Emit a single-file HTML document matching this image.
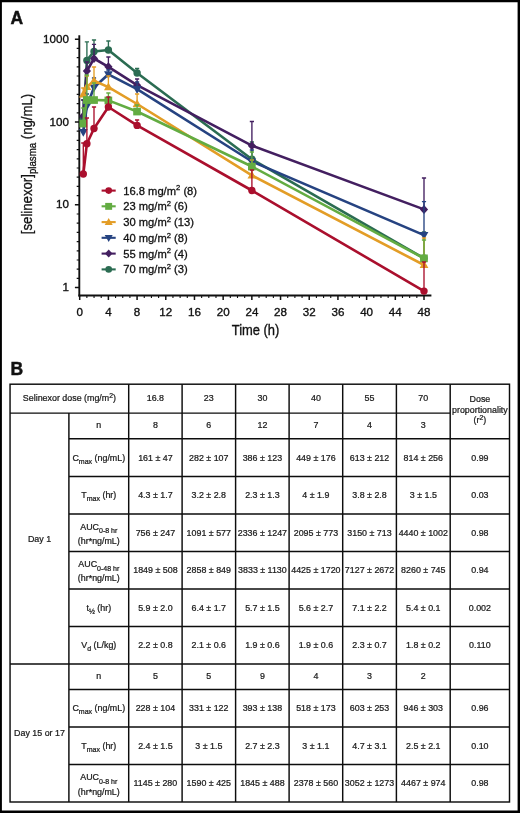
<!DOCTYPE html>
<html lang="en">
<head>
<meta charset="utf-8">
<title>Selinexor pharmacokinetics</title>
<style>html,body{margin:0;padding:0;background:#fff}body{width:520px;height:813px;overflow:hidden}svg text{font-family:"Liberation Sans",sans-serif}</style>
</head>
<body>
<svg width="520" height="813" viewBox="0 0 520 813" style="display:block">
<rect x="0" y="0" width="520" height="813" fill="#fff"/>
<path d="M0 0H520V813H0Z M1.9 2.2H517.6V810.4H1.9Z" fill="#000" fill-rule="evenodd"/>
<text x="10.5" y="23.7" font-size="17.5" font-weight="700" fill="#111" stroke="#111" stroke-width="0.45">A</text>
<text x="10.5" y="374.9" font-size="17.5" font-weight="700" fill="#111" stroke="#111" stroke-width="0.45">B</text>
<g stroke="#111" fill="none">
<path d="M79.3 35.2V296.4" stroke-width="1.9"/>
<path d="M78.39999999999999 295.5H431.4" stroke-width="1.9"/>
<path d="M74.9 287.60H79.3M74.9 204.80H79.3M74.9 122.00H79.3M74.9 39.20H79.3" stroke-width="1.5"/>
<path d="M76.7 278.40H79.3M76.7 269.20H79.3M76.7 260.00H79.3M76.7 250.80H79.3M76.7 241.60H79.3M76.7 232.40H79.3M76.7 223.20H79.3M76.7 214.00H79.3M76.7 195.60H79.3M76.7 186.40H79.3M76.7 177.20H79.3M76.7 168.00H79.3M76.7 158.80H79.3M76.7 149.60H79.3M76.7 140.40H79.3M76.7 131.20H79.3M76.7 112.80H79.3M76.7 103.60H79.3M76.7 94.40H79.3M76.7 85.20H79.3M76.7 76.00H79.3M76.7 66.80H79.3M76.7 57.60H79.3M76.7 48.40H79.3" stroke-width="1.2"/>
<path d="M79.70 295.5V299.9M108.39 295.5V299.9M137.08 295.5V299.9M165.78 295.5V299.9M194.47 295.5V299.9M223.16 295.5V299.9M251.85 295.5V299.9M280.54 295.5V299.9M309.23 295.5V299.9M337.93 295.5V299.9M366.62 295.5V299.9M395.31 295.5V299.9M424.00 295.5V299.9" stroke-width="1.5"/>
<path d="M86.87 295.5V298.0M94.05 295.5V298.0M101.22 295.5V298.0M115.56 295.5V298.0M122.74 295.5V298.0M129.91 295.5V298.0M144.26 295.5V298.0M151.43 295.5V298.0M158.60 295.5V298.0M172.95 295.5V298.0M180.12 295.5V298.0M187.29 295.5V298.0M201.64 295.5V298.0M208.81 295.5V298.0M215.99 295.5V298.0M230.33 295.5V298.0M237.50 295.5V298.0M244.68 295.5V298.0M259.02 295.5V298.0M266.20 295.5V298.0M273.37 295.5V298.0M287.71 295.5V298.0M294.89 295.5V298.0M302.06 295.5V298.0M316.41 295.5V298.0M323.58 295.5V298.0M330.75 295.5V298.0M345.10 295.5V298.0M352.27 295.5V298.0M359.44 295.5V298.0M373.79 295.5V298.0M380.96 295.5V298.0M388.14 295.5V298.0M402.48 295.5V298.0M409.65 295.5V298.0M416.83 295.5V298.0" stroke-width="1.1"/>
</g>
<g font-size="11.6" fill="#111" stroke="#111" stroke-width="0.35">
<text x="68.9" y="291.2" text-anchor="end">1</text>
<text x="68.9" y="208.4" text-anchor="end">10</text>
<text x="68.9" y="125.6" text-anchor="end">100</text>
<text x="68.9" y="42.8" text-anchor="end">1000</text>
<text x="79.7" y="315.6" text-anchor="middle">0</text>
<text x="108.4" y="315.6" text-anchor="middle">4</text>
<text x="137.1" y="315.6" text-anchor="middle">8</text>
<text x="165.8" y="315.6" text-anchor="middle">12</text>
<text x="194.5" y="315.6" text-anchor="middle">16</text>
<text x="223.2" y="315.6" text-anchor="middle">20</text>
<text x="251.9" y="315.6" text-anchor="middle">24</text>
<text x="280.5" y="315.6" text-anchor="middle">28</text>
<text x="309.2" y="315.6" text-anchor="middle">32</text>
<text x="337.9" y="315.6" text-anchor="middle">36</text>
<text x="366.6" y="315.6" text-anchor="middle">40</text>
<text x="395.3" y="315.6" text-anchor="middle">44</text>
<text x="424.0" y="315.6" text-anchor="middle">48</text>
</g>
<text transform="translate(255.5 334.9) scale(0.91 1)" font-size="14.2" text-anchor="middle" fill="#111" stroke="#111" stroke-width="0.35">Time (h)</text>
<text transform="translate(32 164) rotate(-90) scale(0.88 1)" font-size="15" text-anchor="middle" fill="#111" stroke="#111" stroke-width="0.3">[selinexor]<tspan font-size="11" dy="3.6">plasma</tspan><tspan dy="-3.6"> (ng/mL)</tspan></text>
<g stroke="#2b6c52" fill="none">
<path d="M83.3 119.0V100.0M81.2 100.0H85.4M86.9 60.4V41.9M84.8 41.9H89.0M94.0 51.5V40.0M91.9 40.0H96.1M108.4 50.0V41.0M106.3 41.0H110.5M137.1 73.0V68.5M135.0 68.5H139.2M251.9 159.2V142.0M249.8 142.0H254.0M424.0 258.3V232.0M421.9 232.0H426.1" stroke-width="1.35"/>
<polyline points="83.3,119.0 86.9,60.4 94.0,51.5 108.4,50.0 137.1,73.0 251.9,159.2 424.0,258.3" stroke-width="2.6" stroke-linejoin="round"/>
</g>
<circle cx="83.3" cy="119.0" r="3.70" fill="#2b6c52"/>
<circle cx="86.9" cy="60.4" r="3.70" fill="#2b6c52"/>
<circle cx="94.0" cy="51.5" r="3.70" fill="#2b6c52"/>
<circle cx="108.4" cy="50.0" r="3.70" fill="#2b6c52"/>
<circle cx="137.1" cy="73.0" r="3.70" fill="#2b6c52"/>
<circle cx="251.9" cy="159.2" r="3.70" fill="#2b6c52"/>
<circle cx="424.0" cy="258.3" r="3.70" fill="#2b6c52"/>
<g stroke="#431f60" fill="none">
<path d="M83.3 116.0V100.0M81.2 100.0H85.4M86.9 71.0V62.0M84.8 62.0H89.0M94.0 58.5V44.4M91.9 44.4H96.1M108.4 66.8V57.0M106.3 57.0H110.5M137.1 85.2V79.0M135.0 79.0H139.2M251.9 145.7V121.5M249.8 121.5H254.0M424.0 209.4V178.0M421.9 178.0H426.1" stroke-width="1.35"/>
<polyline points="83.3,116.0 86.9,71.0 94.0,58.5 108.4,66.8 137.1,85.2 251.9,145.7 424.0,209.4" stroke-width="2.6" stroke-linejoin="round"/>
</g>
<path d="M83.3 111.5L87.4 116.0L83.3 120.5L79.2 116.0Z" fill="#431f60"/>
<path d="M86.9 66.5L91.0 71.0L86.9 75.5L82.8 71.0Z" fill="#431f60"/>
<path d="M94.0 54.0L98.1 58.5L94.0 63.0L89.9 58.5Z" fill="#431f60"/>
<path d="M108.4 62.3L112.5 66.8L108.4 71.3L104.3 66.8Z" fill="#431f60"/>
<path d="M137.1 80.7L141.2 85.2L137.1 89.7L133.0 85.2Z" fill="#431f60"/>
<path d="M251.9 141.2L256.0 145.7L251.9 150.2L247.8 145.7Z" fill="#431f60"/>
<path d="M424.0 204.9L428.1 209.4L424.0 213.9L419.9 209.4Z" fill="#431f60"/>
<g stroke="#264381" fill="none">
<path d="M83.3 132.0V120.0M81.2 120.0H85.4M86.9 106.0V94.0M84.8 94.0H89.0M94.0 87.5V78.0M91.9 78.0H96.1M108.4 74.3V70.0M106.3 70.0H110.5M137.1 89.2V82.0M135.0 82.0H139.2M251.9 161.5V150.0M249.8 150.0H254.0M424.0 235.1V201.6M421.9 201.6H426.1" stroke-width="1.35"/>
<polyline points="83.3,132.0 86.9,106.0 94.0,87.5 108.4,74.3 137.1,89.2 251.9,161.5 424.0,235.1" stroke-width="2.6" stroke-linejoin="round"/>
</g>
<path d="M83.3 136.7L87.7 128.9L78.9 128.9Z" fill="#264381"/>
<path d="M86.9 110.7L91.3 102.9L82.5 102.9Z" fill="#264381"/>
<path d="M94.0 92.2L98.4 84.4L89.6 84.4Z" fill="#264381"/>
<path d="M108.4 79.0L112.8 71.2L104.0 71.2Z" fill="#264381"/>
<path d="M137.1 93.9L141.5 86.1L132.7 86.1Z" fill="#264381"/>
<path d="M251.9 166.2L256.2 158.4L247.5 158.4Z" fill="#264381"/>
<path d="M424.0 239.8L428.4 232.0L419.6 232.0Z" fill="#264381"/>
<g stroke="#e39d26" fill="none">
<path d="M83.3 94.5V88.0M81.2 88.0H85.4M86.9 87.0V76.0M84.8 76.0H89.0M94.0 80.8V67.0M91.9 67.0H96.1M108.4 87.1V76.0M106.3 76.0H110.5M137.1 104.0V94.0M135.0 94.0H139.2M251.9 175.4V160.0M249.8 160.0H254.0M424.0 265.0V238.0M421.9 238.0H426.1" stroke-width="1.35"/>
<polyline points="83.3,94.5 86.9,87.0 94.0,80.8 108.4,87.1 137.1,104.0 251.9,175.4 424.0,265.0" stroke-width="2.6" stroke-linejoin="round"/>
</g>
<path d="M83.3 89.8L87.7 97.6L78.9 97.6Z" fill="#e39d26"/>
<path d="M86.9 82.3L91.3 90.1L82.5 90.1Z" fill="#e39d26"/>
<path d="M94.0 76.1L98.4 83.9L89.6 83.9Z" fill="#e39d26"/>
<path d="M108.4 82.4L112.8 90.2L104.0 90.2Z" fill="#e39d26"/>
<path d="M137.1 99.3L141.5 107.1L132.7 107.1Z" fill="#e39d26"/>
<path d="M251.9 170.7L256.2 178.5L247.5 178.5Z" fill="#e39d26"/>
<path d="M424.0 260.3L428.4 268.1L419.6 268.1Z" fill="#e39d26"/>
<g stroke="#63ac42" fill="none">
<path d="M83.3 123.5V108.0M81.2 108.0H85.4M86.9 100.0V75.0M84.8 75.0H89.0M94.0 100.0V83.0M91.9 83.0H96.1M108.4 100.4V93.0M106.3 93.0H110.5M137.1 111.5V105.0M135.0 105.0H139.2M251.9 166.5V152.0M249.8 152.0H254.0M424.0 258.3V240.0M421.9 240.0H426.1" stroke-width="1.35"/>
<polyline points="83.3,123.5 86.9,100.0 94.0,100.0 108.4,100.4 137.1,111.5 251.9,166.5 424.0,258.3" stroke-width="2.6" stroke-linejoin="round"/>
</g>
<rect x="79.4" y="119.7" width="7.70" height="7.70" fill="#63ac42"/>
<rect x="83.0" y="96.2" width="7.70" height="7.70" fill="#63ac42"/>
<rect x="90.2" y="96.2" width="7.70" height="7.70" fill="#63ac42"/>
<rect x="104.5" y="96.6" width="7.70" height="7.70" fill="#63ac42"/>
<rect x="133.2" y="107.7" width="7.70" height="7.70" fill="#63ac42"/>
<rect x="248.0" y="162.7" width="7.70" height="7.70" fill="#63ac42"/>
<rect x="420.1" y="254.5" width="7.70" height="7.70" fill="#63ac42"/>
<g stroke="#aa0f2d" fill="none">
<path d="M83.3 174.0V143.0M81.2 143.0H85.4M86.9 143.7V118.0M84.8 118.0H89.0M94.0 128.5V107.0M91.9 107.0H96.1M108.4 107.0V97.0M106.3 97.0H110.5M137.1 125.4V120.0M135.0 120.0H139.2M251.9 190.5V170.0M249.8 170.0H254.0M424.0 291.1V262.0M421.9 262.0H426.1" stroke-width="1.35"/>
<polyline points="83.3,174.0 86.9,143.7 94.0,128.5 108.4,107.0 137.1,125.4 251.9,190.5 424.0,291.1" stroke-width="2.6" stroke-linejoin="round"/>
</g>
<circle cx="83.3" cy="174.0" r="3.70" fill="#aa0f2d"/>
<circle cx="86.9" cy="143.7" r="3.70" fill="#aa0f2d"/>
<circle cx="94.0" cy="128.5" r="3.70" fill="#aa0f2d"/>
<circle cx="108.4" cy="107.0" r="3.70" fill="#aa0f2d"/>
<circle cx="137.1" cy="125.4" r="3.70" fill="#aa0f2d"/>
<circle cx="251.9" cy="190.5" r="3.70" fill="#aa0f2d"/>
<circle cx="424.0" cy="291.1" r="3.70" fill="#aa0f2d"/>
<path d="M101.6 190.6H115.7" stroke="#aa0f2d" stroke-width="2.1"/>
<circle cx="108.7" cy="190.6" r="3.33" fill="#aa0f2d"/>
<text x="123.2" y="194.6" font-size="11.2" fill="#111" stroke="#111" stroke-width="0.3">16.8 mg/m<tspan font-size="7.6" dy="-4.2">2</tspan><tspan dy="4.2"> (8)</tspan></text>
<path d="M101.6 206.3H115.7" stroke="#63ac42" stroke-width="2.1"/>
<rect x="105.2" y="202.9" width="6.93" height="6.93" fill="#63ac42"/>
<text x="123.2" y="210.3" font-size="11.2" fill="#111" stroke="#111" stroke-width="0.3">23 mg/m<tspan font-size="7.6" dy="-4.2">2</tspan><tspan dy="4.2"> (6)</tspan></text>
<path d="M101.6 222.1H115.7" stroke="#e39d26" stroke-width="2.1"/>
<path d="M108.7 217.9L112.7 224.9L104.7 224.9Z" fill="#e39d26"/>
<text x="123.2" y="226.1" font-size="11.2" fill="#111" stroke="#111" stroke-width="0.3">30 mg/m<tspan font-size="7.6" dy="-4.2">2</tspan><tspan dy="4.2"> (13)</tspan></text>
<path d="M101.6 237.8H115.7" stroke="#264381" stroke-width="2.1"/>
<path d="M108.7 242.1L112.7 235.1L104.7 235.1Z" fill="#264381"/>
<text x="123.2" y="241.8" font-size="11.2" fill="#111" stroke="#111" stroke-width="0.3">40 mg/m<tspan font-size="7.6" dy="-4.2">2</tspan><tspan dy="4.2"> (8)</tspan></text>
<path d="M101.6 253.6H115.7" stroke="#431f60" stroke-width="2.1"/>
<path d="M108.7 249.5L112.4 253.6L108.7 257.6L105.0 253.6Z" fill="#431f60"/>
<text x="123.2" y="257.6" font-size="11.2" fill="#111" stroke="#111" stroke-width="0.3">55 mg/m<tspan font-size="7.6" dy="-4.2">2</tspan><tspan dy="4.2"> (4)</tspan></text>
<path d="M101.6 269.4H115.7" stroke="#2b6c52" stroke-width="2.1"/>
<circle cx="108.7" cy="269.4" r="3.33" fill="#2b6c52"/>
<text x="123.2" y="273.4" font-size="11.2" fill="#111" stroke="#111" stroke-width="0.3">70 mg/m<tspan font-size="7.6" dy="-4.2">2</tspan><tspan dy="4.2"> (3)</tspan></text>
<g stroke="#0d0d0d" stroke-width="1.45" fill="none">
<rect x="10.05" y="384.2" width="499.45" height="417.8"/>
<path d="M68.9 413.1V802M128.7 384.2V802M182.1 384.2V802M235.6 384.2V802M289.1 384.2V802M342.7 384.2V802M396.4 384.2V802M450.2 384.2V802M10.05 413.1H450.2M68.9 438.8H509.5M68.9 476.4H509.5M68.9 513.9H509.5M68.9 551.4H509.5M68.9 588.9H509.5M68.9 626.4H509.5M10.05 663.9H509.5M68.9 689.5H509.5M68.9 727H509.5M68.9 764.5H509.5"/>
</g>
<g font-size="8.9" fill="#1a1a1a" text-anchor="middle" stroke="#1a1a1a" stroke-width="0.24">
<text x="69.4" y="400.9">Selinexor dose (mg/m<tspan font-size="6.8" dy="-3.2">2</tspan><tspan dy="3.2">)</tspan></text>
<text x="155.4" y="400.9">16.8</text>
<text x="208.8" y="400.9">23</text>
<text x="262.4" y="400.9">30</text>
<text x="315.9" y="400.9">40</text>
<text x="369.5" y="400.9">55</text>
<text x="423.3" y="400.9">70</text>
<text x="479.9" y="402.2">Dose</text>
<text x="479.9" y="412.6">proportionality</text>
<text x="479.9" y="423.4">(r<tspan font-size="6.8" dy="-3.2">2</tspan><tspan dy="3.2">)</tspan></text>
<text x="39.5" y="541.6">Day 1</text>
<text x="39.5" y="736.1">Day 15 or 17</text>
<text x="98.8" y="428.3">n</text>
<text x="155.4" y="428.3">8</text>
<text x="208.8" y="428.3">6</text>
<text x="262.4" y="428.3">12</text>
<text x="315.9" y="428.3">7</text>
<text x="369.5" y="428.3">4</text>
<text x="423.3" y="428.3">3</text>
<text x="98.8" y="460.7">C<tspan font-size="7" dy="2.8">max</tspan><tspan dy="-2.8"> (ng/mL)</tspan></text>
<text x="155.4" y="460.7">161 ± 47</text>
<text x="208.8" y="460.7">282 ± 107</text>
<text x="262.4" y="460.7">386 ± 123</text>
<text x="315.9" y="460.7">449 ± 176</text>
<text x="369.5" y="460.7">613 ± 212</text>
<text x="423.3" y="460.7">814 ± 256</text>
<text x="479.9" y="460.7">0.99</text>
<text x="98.8" y="498.2">T<tspan font-size="7" dy="2.8">max</tspan><tspan dy="-2.8"> (hr)</tspan></text>
<text x="155.4" y="498.2">4.3 ± 1.7</text>
<text x="208.8" y="498.2">3.2 ± 2.8</text>
<text x="262.4" y="498.2">2.3 ± 1.3</text>
<text x="315.9" y="498.2">4 ± 1.9</text>
<text x="369.5" y="498.2">3.8 ± 2.8</text>
<text x="423.3" y="498.2">3 ± 1.5</text>
<text x="479.9" y="498.2">0.03</text>
<text x="98.8" y="529.8">AUC<tspan font-size="7" dy="3.3">0-8 hr</tspan></text>
<text x="98.8" y="543.9">(hr*ng/mL)</text>
<text x="155.4" y="535.8">756 ± 247</text>
<text x="208.8" y="535.8">1091 ± 577</text>
<text x="262.4" y="535.8">2336 ± 1247</text>
<text x="315.9" y="535.8">2095 ± 773</text>
<text x="369.5" y="535.8">3150 ± 713</text>
<text x="423.3" y="535.8">4440 ± 1002</text>
<text x="479.9" y="535.8">0.98</text>
<text x="98.8" y="567.2">AUC<tspan font-size="7" dy="3.3">0-48 hr</tspan></text>
<text x="98.8" y="581.4">(hr*ng/mL)</text>
<text x="155.4" y="573.2">1849 ± 508</text>
<text x="208.8" y="573.2">2858 ± 849</text>
<text x="262.4" y="573.2">3833 ± 1130</text>
<text x="315.9" y="573.2">4425 ± 1720</text>
<text x="369.5" y="573.2">7127 ± 2672</text>
<text x="423.3" y="573.2">8260 ± 745</text>
<text x="479.9" y="573.2">0.94</text>
<text x="98.8" y="610.8">t<tspan font-size="7" dy="2.8">½</tspan><tspan dy="-2.8"> (hr)</tspan></text>
<text x="155.4" y="610.8">5.9 ± 2.0</text>
<text x="208.8" y="610.8">6.4 ± 1.7</text>
<text x="262.4" y="610.8">5.7 ± 1.5</text>
<text x="315.9" y="610.8">5.6 ± 2.7</text>
<text x="369.5" y="610.8">7.1 ± 2.2</text>
<text x="423.3" y="610.8">5.4 ± 0.1</text>
<text x="479.9" y="610.8">0.002</text>
<text x="98.8" y="648.2">V<tspan font-size="7" dy="2.8">d</tspan><tspan dy="-2.8"> (L/kg)</tspan></text>
<text x="155.4" y="648.2">2.2 ± 0.8</text>
<text x="208.8" y="648.2">2.1 ± 0.6</text>
<text x="262.4" y="648.2">1.9 ± 0.6</text>
<text x="315.9" y="648.2">1.9 ± 0.6</text>
<text x="369.5" y="648.2">2.3 ± 0.7</text>
<text x="423.3" y="648.2">1.8 ± 0.2</text>
<text x="479.9" y="648.2">0.110</text>
<text x="98.8" y="679.0">n</text>
<text x="155.4" y="679.0">5</text>
<text x="208.8" y="679.0">5</text>
<text x="262.4" y="679.0">9</text>
<text x="315.9" y="679.0">4</text>
<text x="369.5" y="679.0">3</text>
<text x="423.3" y="679.0">2</text>
<text x="98.8" y="711.4">C<tspan font-size="7" dy="2.8">max</tspan><tspan dy="-2.8"> (ng/mL)</tspan></text>
<text x="155.4" y="711.4">228 ± 104</text>
<text x="208.8" y="711.4">331 ± 122</text>
<text x="262.4" y="711.4">393 ± 138</text>
<text x="315.9" y="711.4">518 ± 173</text>
<text x="369.5" y="711.4">603 ± 253</text>
<text x="423.3" y="711.4">946 ± 303</text>
<text x="479.9" y="711.4">0.96</text>
<text x="98.8" y="748.9">T<tspan font-size="7" dy="2.8">max</tspan><tspan dy="-2.8"> (hr)</tspan></text>
<text x="155.4" y="748.9">2.4 ± 1.5</text>
<text x="208.8" y="748.9">3 ± 1.5</text>
<text x="262.4" y="748.9">2.7 ± 2.3</text>
<text x="315.9" y="748.9">3 ± 1.1</text>
<text x="369.5" y="748.9">4.7 ± 3.1</text>
<text x="423.3" y="748.9">2.5 ± 2.1</text>
<text x="479.9" y="748.9">0.10</text>
<text x="98.8" y="780.4">AUC<tspan font-size="7" dy="3.3">0-8 hr</tspan></text>
<text x="98.8" y="794.5">(hr*ng/mL)</text>
<text x="155.4" y="786.4">1145 ± 280</text>
<text x="208.8" y="786.4">1590 ± 425</text>
<text x="262.4" y="786.4">1845 ± 488</text>
<text x="315.9" y="786.4">2378 ± 560</text>
<text x="369.5" y="786.4">3052 ± 1273</text>
<text x="423.3" y="786.4">4467 ± 974</text>
<text x="479.9" y="786.4">0.98</text>
</g>
</svg>
</body>
</html>
